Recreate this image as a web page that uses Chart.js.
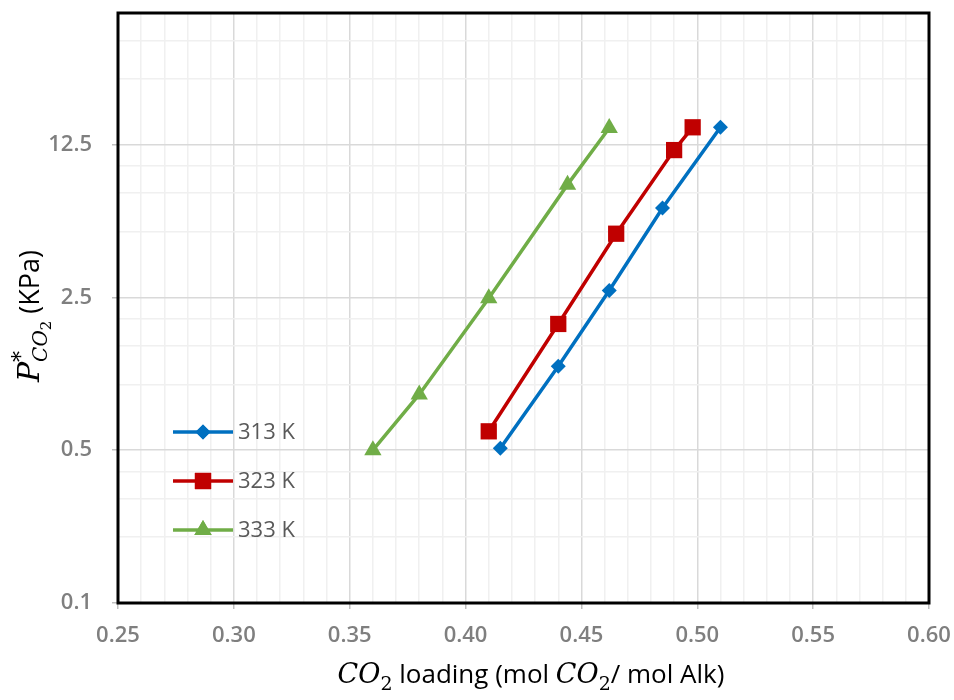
<!DOCTYPE html>
<html>
<head>
<meta charset="utf-8">
<script src="https://cdn.jsdelivr.net/npm/chart.js@4/dist/chart.umd.min.js"></script>
<style>
  html, body { margin: 0; padding: 0; background: #fff; }
  #wrap { width: 954px; height: 700px; }
</style>
</head>
<body>
<div id="wrap"><canvas id="chart" width="954" height="700"></canvas></div>
<script>
// Series: CO2 loading vs. equilibrium partial pressure (KPa)
const seriesNames = ['313 K', '323 K', '333 K'];
const loading313 = [0.415, 0.44, 0.462, 0.485, 0.51];
const pressure313 = [0.51, 1.21, 2.69, 6.41, 15.0];
const loading323 = [0.41, 0.44, 0.465, 0.49, 0.498];
const pressure323 = [0.61, 1.89, 4.89, 11.8, 15.0];
const loading333 = [0.36, 0.38, 0.41, 0.444, 0.462];
const pressure333 = [0.5, 0.9, 2.48, 8.2, 14.9];

// Axis ticks
const yMajorTicks = [0.1, 0.5, 2.5, 12.5];
const yMinorTicks = [0.2, 0.3, 0.4, 1, 1.5, 2, 5, 7.5, 10, 25, 37.5, 50];
const xMin = 0.25, xMax = 0.60, xMinorStep = 0.01;

const colors = ['#0070C0', '#C00000', '#70AD47'];
const pointStyles = ['rectRot', 'rect', 'triangle'];
const pointRadii = [7.5, 11.5, 10];

const toPoints = (xs, ys) => xs.map((x, i) => ({ x, y: ys[i] }));
const seriesData = [
  toPoints(loading313, pressure313),
  toPoints(loading323, pressure323),
  toPoints(loading333, pressure333),
];

const tickFont = { family: '"Open Sans", sans-serif', size: 22, weight: '600' };
const tickColor = '#7f7f7f';
const isXMajor = (v) => Math.round(v * 100) % 5 === 0;

// Draws a run of text pieces with their own font and vertical offset
function drawRich(ctx, parts, x, y) {
  let total = 0;
  parts.forEach((p) => { ctx.font = p.font; if (!p.stack) total += ctx.measureText(p.text).width; });
  let cx = x - total / 2;
  parts.forEach((p) => {
    ctx.font = p.font;
    ctx.fillText(p.text, cx, y + (p.dy || 0));
    if (!p.stack) cx += ctx.measureText(p.text).width;
  });
}

const decorations = {
  id: 'decorations',
  afterDraw(chart) {
    const { ctx, chartArea: a } = chart;
    ctx.save();
    // black frame round the plot
    ctx.strokeStyle = '#000';
    ctx.lineWidth = 3;
    ctx.strokeRect(a.left, a.top, a.right - a.left, a.bottom - a.top);

    // legend inside the plot
    const legendY = [432, 481, 530];
    chart.data.datasets.forEach((ds, i) => {
      const y = legendY[i];
      ctx.strokeStyle = ds.borderColor;
      ctx.lineWidth = 3.5;
      ctx.beginPath();
      ctx.moveTo(173, y);
      ctx.lineTo(233, y);
      ctx.stroke();
      ctx.fillStyle = ds.borderColor;
      Chart.helpers.drawPoint(ctx, { pointStyle: ds.pointStyle, radius: ds.pointRadius, rotation: 0, borderWidth: 0 }, 203, y);
      ctx.fill();
      ctx.fillStyle = '#595959';
      ctx.font = '22px "Open Sans", sans-serif';
      ctx.textBaseline = 'middle';
      ctx.textAlign = 'left';
      ctx.fillText(ds.label, 238, y + 1);
    });

    // axis titles with math-style parts
    ctx.fillStyle = '#000';
    ctx.textBaseline = 'alphabetic';
    ctx.textAlign = 'left';
    const serifI = 'italic 27px "DejaVu Serif", serif';
    const sub = '19px "DejaVu Serif", serif';
    const sans = '26px "Open Sans", sans-serif';
    drawRich(ctx, [
      { text: 'CO', font: serifI },
      { text: '2', font: sub, dy: 7 },
      { text: ' loading (mol ', font: sans },
      { text: 'CO', font: serifI },
      { text: '2', font: sub, dy: 7 },
      { text: '/ mol Alk)', font: sans },
    ], 531, 683);

    ctx.translate(39, 316);
    ctx.rotate(-Math.PI / 2);
    drawRich(ctx, [
      { text: 'P', font: 'italic 30px "DejaVu Serif", serif' },
      { text: '*', font: '22px "DejaVu Serif", serif', dy: -11, stack: true },
      { text: 'CO', font: 'italic 20px "DejaVu Serif", serif', dy: 8 },
      { text: '2', font: '15px "DejaVu Serif", serif', dy: 12 },
      { text: ' (KPa)', font: '27px "Open Sans", sans-serif' },
    ], 0, 0);
    ctx.restore();
  },
};

new Chart(document.getElementById('chart'), {
  type: 'line',
  data: {
    datasets: seriesData.map((data, i) => ({
      label: seriesNames[i],
      data,
      borderColor: colors[i],
      backgroundColor: colors[i],
      borderWidth: 3.5,
      pointStyle: pointStyles[i],
      pointRadius: pointRadii[i],
      pointBorderWidth: 0,
      pointBackgroundColor: colors[i],
      tension: 0,
    })),
  },
  options: {
    responsive: false,
    animation: false,
    layout: { padding: { top: 13, right: 25, left: 0, bottom: 0 } },
    plugins: { legend: { display: false }, tooltip: { enabled: false } },
    scales: {
      x: {
        type: 'linear',
        min: xMin,
        max: xMax,
        afterFit: (s) => { s.height = 97; s.paddingLeft = 0; s.paddingRight = 0; },
        ticks: {
          stepSize: xMinorStep,
          autoSkip: false,
          maxRotation: 0,
          padding: 14,
          font: tickFont,
          color: tickColor,
          callback: (v) => (isXMajor(v) ? v.toFixed(2) : ''),
        },
        grid: {
          color: (c) => (c.tick && isXMajor(c.tick.value) ? '#d9d9d9' : '#f0f0f0'),
          lineWidth: 1.5,
          tickLength: 6,
          tickColor: (c) => (c.tick && isXMajor(c.tick.value) ? '#bfbfbf' : 'rgba(0,0,0,0)'),
        },
        border: { display: false },
      },
      y: {
        type: 'logarithmic',
        min: 0.1,
        max: 50,
        afterFit: (s) => { s.width = 118; s.paddingTop = 0; s.paddingBottom = 0; },
        afterBuildTicks: (s) => {
          s.ticks = [...yMajorTicks, ...yMinorTicks]
            .sort((p, q) => p - q)
            .map((v) => ({ value: v, major: yMajorTicks.includes(v) }));
        },
        ticks: {
          autoSkip: false,
          padding: 20,
          font: tickFont,
          color: tickColor,
          callback: (v) => (yMajorTicks.includes(v) ? String(v) : ''),
        },
        grid: {
          color: (c) => (c.tick && yMajorTicks.includes(c.tick.value) ? '#d9d9d9' : '#f0f0f0'),
          lineWidth: 1.5,
          tickLength: 6,
          tickColor: (c) => (c.tick && yMajorTicks.includes(c.tick.value) ? '#bfbfbf' : 'rgba(0,0,0,0)'),
        },
        border: { display: false },
      },
    },
  },
  plugins: [decorations],
});
</script>
</body>
</html>
